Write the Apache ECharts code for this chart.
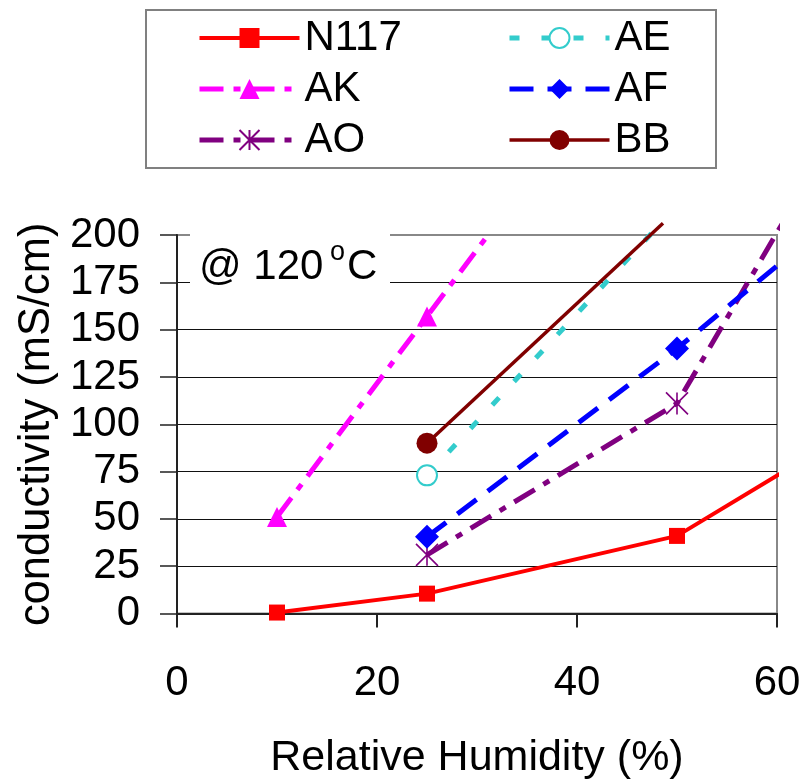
<!DOCTYPE html>
<html><head><meta charset="utf-8">
<script src="https://cdn.jsdelivr.net/npm/echarts@6/dist/echarts.min.js"></script>
<style>html,body{margin:0;padding:0;background:#fff}#c{width:804px;height:781px}</style>
</head><body><div id="c"></div>
<script>
// x = Relative Humidity (%), y = conductivity (mS/cm)
// the last point of every series is where its drawn line leaves the picture (no marker there)
const n117X = [10, 25, 50, 62.7];
const n117Y = [0.5, 10.5, 41, 81.5];
const akX = [10, 25, 31.3];
const akY = [51, 157, 201.4];
const aoX = [25, 50, 60.5];
const aoY = [31, 111, 205.8];
const aeX = [25, 47.6];
const aeY = [73, 201.7];
const afX = [25, 50, 60.8];
const afY = [40.5, 140, 187.2];
const bbX = [25, 48.6];
const bbY = [90, 206.2];
const legendCol1 = ['N117', 'AK', 'AO'];
const legendCol2 = ['AE', 'AF', 'BB'];
const xTickStep = 20, xMin = 0, xMax = 60;
const yTickStep = 25, yMin = 0, yMax = 200;

const FONT = "'Liberation Sans', Arial, sans-serif";
const STAR = 'path://M0,0L20,20M20,0L0,20M10,0L10,20';

function pts(xs, ys) {
  return xs.map((x, i) => i === xs.length - 1 ? { value: [x, ys[i]], symbol: 'none' } : [x, ys[i]]);
}
function mk(name, xs, ys, color, width, type, symbol, size, itemStyle) {
  return {
    name, type: 'line', data: pts(xs, ys), clip: false, color,
    symbol, symbolSize: size, showAllSymbol: true,
    lineStyle: { color, width, type },
    itemStyle: Object.assign({ color }, itemStyle || {}),
    emphasis: { disabled: true }, silent: true, animation: false
  };
}

const chart = echarts.init(document.getElementById('c'), null, { renderer: 'canvas' });
const legendCommon = {
  orient: 'vertical', top: 17, itemWidth: 100, itemHeight: 25, itemGap: 9, padding: 0,
  selectedMode: false,
  lineStyle: { width: 'inherit', type: 'inherit' },
  textStyle: { fontSize: 42, color: '#000', fontFamily: FONT, lineHeight: 42 }
};
chart.setOption({
  backgroundColor: '#fff',
  animation: false,
  textStyle: { fontFamily: FONT },
  grid: { left: 177, right: 27, top: 235, bottom: 167.5, show: true, borderColor: '#888', borderWidth: 2, backgroundColor: 'transparent' },
  legend: [
    Object.assign({ data: legendCol1, left: 197 }, legendCommon),
    Object.assign({ data: legendCol2, left: 507 }, legendCommon)
  ],
  xAxis: {
    type: 'value', min: xMin, max: xMax, interval: xTickStep,
    name: 'Relative Humidity (%)', nameLocation: 'middle', nameGap: 123,
    nameTextStyle: { fontSize: 43, color: '#000', fontFamily: FONT },
    axisLine: { onZero: false, lineStyle: { color: '#222', width: 2 } },
    axisTick: { show: true, length: 14, lineStyle: { color: '#222', width: 2 } },
    axisLabel: { fontSize: 42, color: '#000', margin: 49, fontFamily: FONT },
    splitLine: { show: false }
  },
  yAxis: {
    type: 'value', min: yMin, max: yMax, interval: yTickStep,
    name: 'conductivity (mS/cm)', nameLocation: 'middle', nameGap: 116,
    nameTextStyle: { fontSize: 43.5, color: '#000', fontFamily: FONT },
    axisLine: { onZero: false, lineStyle: { color: '#222', width: 2 } },
    axisTick: { show: true, length: 17, lineStyle: { color: '#222', width: 1.5 } },
    axisLabel: { fontSize: 42, color: '#000', margin: 37, fontFamily: FONT },
    splitLine: { show: true, showMinLine: false, showMaxLine: false, lineStyle: { color: '#111', width: 1.2 } }
  },
  graphic: [
    { type: 'rect', z: 1, shape: { x: 146, y: 10, width: 570, height: 158 }, style: { fill: '#fff', stroke: '#808080', lineWidth: 2 } },
    { type: 'rect', z: 1, shape: { x: 190, y: 222, width: 200, height: 76 }, style: { fill: '#fff', stroke: null } },
    { type: 'text', z: 5, x: 199, y: 267, style: { text: '@ 120', fontSize: 42, fontFamily: FONT, fill: '#000', verticalAlign: 'middle', align: 'left' } },
    { type: 'text', z: 5, x: 330, y: 252.5, style: { text: 'o', fontSize: 27, fontFamily: FONT, fill: '#000', verticalAlign: 'middle', align: 'left' } },
    { type: 'text', z: 5, x: 347, y: 267, style: { text: 'C', fontSize: 42, fontFamily: FONT, fill: '#000', verticalAlign: 'middle', align: 'left' } }
  ],
  series: [
    mk('N117', n117X, n117Y, '#FF0000', 4, 'solid', 'rect', 16),
    mk('AK', akX, akY, '#FF00FF', 5, [24, 10, 7, 10], 'triangle', 20),
    mk('AO', aoX, aoY, '#800080', 5, [24, 10, 7, 10], STAR, 22, { color: '#800080', borderColor: '#800080', borderWidth: 1.6 }),
    mk('AE', aeX, aeY, '#33CCCC', 5, [10, 22], 'emptyCircle', 20, { borderWidth: 2 }),
    mk('AF', afX, afY, '#0000FF', 5, [24, 14], 'diamond', 24),
    mk('BB', bbX, bbY, '#800000', 3.5, 'solid', 'circle', 21)
  ]
});
</script></body></html>
